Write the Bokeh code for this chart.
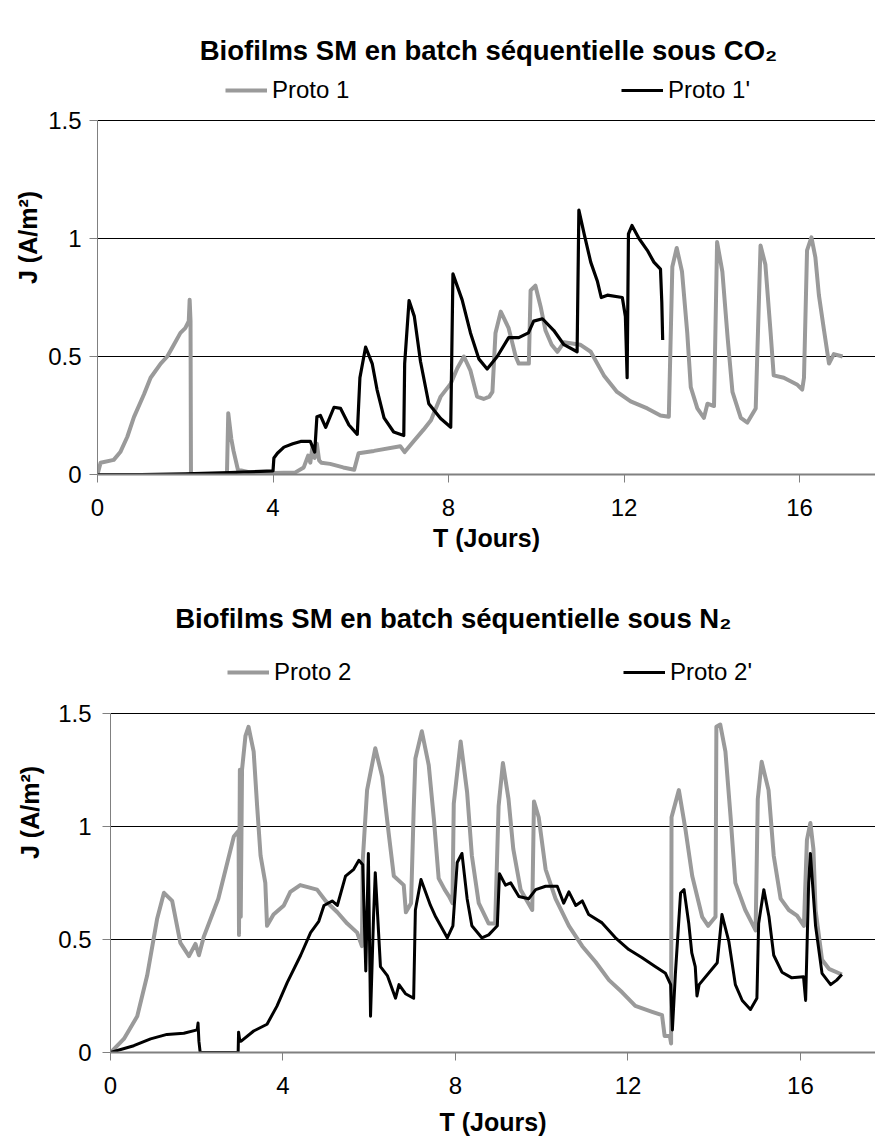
from bokeh.plotting import figure
from bokeh.models import (Range1d, FixedTicker, NumeralTickFormatter, Title, Label,
                          Legend, LegendItem)
from bokeh.embed import file_html
from bokeh.resources import INLINE

# ---------------- data ----------------
x_ticks = [0, 4, 8, 12, 16]
y_ticks = [0, 0.5, 1, 1.5]

t_proto1 = [0.0, 0.07, 0.37, 0.52, 0.68, 0.83, 1.06, 1.21, 1.44, 1.59, 1.74, 1.89, 2.0, 2.08,
            2.1, 2.12, 2.13, 2.95, 2.98, 3.05, 3.1, 3.2, 3.5, 4.0, 4.5, 4.7, 4.8, 4.85, 4.9,
            4.95, 5.0, 5.05, 5.1, 5.3, 5.6, 5.85, 5.95, 6.3, 6.9, 7.0, 7.2, 7.43, 7.6, 7.82,
            8.05, 8.2, 8.35, 8.5, 8.65, 8.8, 8.93, 9.0, 9.07, 9.19, 9.37, 9.53, 9.6, 9.83,
            9.87, 9.98, 10.1, 10.21, 10.35, 10.48, 10.63, 11.0, 11.24, 11.54, 11.84, 12.15,
            12.53, 12.83, 13.02, 13.1, 13.2, 13.32, 13.44, 13.52, 13.67, 13.82, 13.9, 14.05,
            14.12, 14.24, 14.36, 14.47, 14.66, 14.81, 15.0, 15.11, 15.22, 15.34, 15.41, 15.64,
            15.95, 16.06, 16.1, 16.17, 16.27, 16.36, 16.44, 16.55, 16.67, 16.78, 16.98]
j_proto1 = [0.0, 0.05, 0.062, 0.095, 0.16, 0.243, 0.34, 0.41, 0.47, 0.50, 0.55, 0.60, 0.62, 0.65,
            0.74, 0.65, 0.0, 0.0, 0.26, 0.15, 0.10, 0.02, 0.008, 0.006, 0.008, 0.03, 0.08, 0.05,
            0.12, 0.07, 0.13, 0.06, 0.05, 0.045, 0.03, 0.02, 0.09, 0.10, 0.12, 0.095, 0.14, 0.19,
            0.23, 0.33, 0.385, 0.45, 0.50, 0.44, 0.33, 0.32, 0.33, 0.35, 0.60, 0.69, 0.62, 0.50,
            0.47, 0.47, 0.78, 0.80, 0.71, 0.61, 0.55, 0.52, 0.56, 0.55, 0.52, 0.42, 0.35, 0.31,
            0.28, 0.25, 0.245, 0.88, 0.96, 0.86, 0.60, 0.37, 0.28, 0.24, 0.30, 0.29, 0.985,
            0.86, 0.58, 0.35, 0.24, 0.22, 0.28, 0.97, 0.89, 0.60, 0.42, 0.41, 0.38, 0.36, 0.41,
            0.95, 1.005, 0.92, 0.76, 0.62, 0.47, 0.51, 0.50]

t_proto1b = [0.0, 1.0, 2.0, 3.0, 4.0, 4.02, 4.1, 4.25, 4.45, 4.63, 4.85, 4.95, 5.0, 5.08, 5.2,
             5.39, 5.54, 5.73, 5.92, 5.98, 6.11, 6.26, 6.37, 6.53, 6.75, 6.98, 7.0, 7.1, 7.22,
             7.36, 7.55, 7.82, 8.05, 8.1, 8.31, 8.5, 8.69, 8.88, 9.11, 9.37, 9.6, 9.82, 9.94,
             10.14, 10.4, 10.63, 10.93, 10.97, 11.09, 11.24, 11.39, 11.48, 11.62, 11.96, 12.03,
             12.07, 12.1, 12.18, 12.34, 12.53, 12.68, 12.83, 12.86, 12.88]
j_proto1b = [0.0, 0.0, 0.003, 0.008, 0.015, 0.07, 0.09, 0.116, 0.13, 0.14, 0.14, 0.095, 0.245,
             0.25, 0.20, 0.285, 0.28, 0.21, 0.17, 0.41, 0.54, 0.47, 0.36, 0.24, 0.18, 0.165,
             0.47, 0.737, 0.67, 0.48, 0.30, 0.237, 0.20, 0.85, 0.74, 0.60, 0.49, 0.447, 0.50,
             0.58, 0.58, 0.60, 0.65, 0.66, 0.61, 0.55, 0.52, 1.12, 1.02, 0.90, 0.82, 0.75, 0.76,
             0.75, 0.67, 0.41, 1.02, 1.055, 1.0, 0.95, 0.90, 0.87, 0.73, 0.57]

t_proto2 = [0.0, 0.04, 0.31, 0.62, 0.85, 1.08, 1.24, 1.43, 1.62, 1.82, 1.97, 2.05, 2.16, 2.5,
            2.86, 2.97, 2.98, 3.0, 3.02, 3.05, 3.13, 3.2, 3.32, 3.4, 3.48, 3.59, 3.63, 3.78,
            4.02, 4.17, 4.4, 4.79, 4.99, 5.26, 5.49, 5.72, 5.83, 5.85, 5.95, 6.14, 6.3, 6.45,
            6.57, 6.8, 6.85, 6.97, 7.03, 7.07, 7.22, 7.38, 7.5, 7.61, 7.75, 7.85, 7.93, 7.96,
            8.12, 8.27, 8.38, 8.54, 8.77, 8.92, 9.0, 9.1, 9.23, 9.34, 9.51, 9.78, 9.82, 9.93,
            10.09, 10.32, 10.63, 10.94, 11.25, 11.56, 11.87, 12.17, 12.56, 12.79, 12.85, 12.97,
            13.0, 13.01, 13.18, 13.33, 13.49, 13.72, 13.86, 14.03, 14.05, 14.14, 14.26, 14.38,
            14.49, 14.72, 14.96, 15.01, 15.1, 15.26, 15.38, 15.54, 15.73, 15.92, 16.08, 16.15,
            16.23, 16.3, 16.35, 16.5, 16.66, 16.96]
j_proto2 = [0.0, 0.007, 0.06, 0.16, 0.34, 0.59, 0.706, 0.67, 0.485, 0.426, 0.48, 0.43, 0.51,
            0.68, 0.955, 0.98, 0.52, 1.25, 0.6, 1.25, 1.40, 1.44, 1.33, 1.09, 0.87, 0.75, 0.56,
            0.61, 0.65, 0.71, 0.74, 0.72, 0.67, 0.62, 0.57, 0.53, 0.47, 0.85, 1.16, 1.345, 1.22,
            0.97, 0.78, 0.74, 0.62, 0.66, 1.07, 1.3, 1.42, 1.27, 1.03, 0.77, 0.72, 0.69, 0.66,
            1.10, 1.375, 1.15, 0.87, 0.66, 0.57, 0.57, 1.09, 1.28, 1.12, 0.90, 0.72, 0.63, 1.11,
            1.04, 0.81, 0.68, 0.56, 0.47, 0.40, 0.32, 0.265, 0.206, 0.18, 0.165, 0.073, 0.073,
            0.04, 1.04, 1.16, 0.99, 0.78, 0.60, 0.56, 0.60, 1.44, 1.45, 1.33, 1.04, 0.75, 0.63,
            0.54, 1.12, 1.285, 1.16, 0.87, 0.68, 0.63, 0.605, 0.56, 0.94, 1.015, 0.9, 0.63,
            0.41, 0.37, 0.345]

t_proto2b = [0.0, 0.54, 0.93, 1.31, 1.7, 2.01, 2.03, 2.05, 2.08, 2.96, 2.97, 3.0, 3.03, 3.32,
             3.63, 3.86, 4.1, 4.41, 4.64, 4.83, 4.95, 5.14, 5.26, 5.45, 5.64, 5.76, 5.85, 5.92,
             5.98, 6.03, 6.1, 6.14, 6.26, 6.42, 6.61, 6.69, 6.84, 7.03, 7.07, 7.2, 7.42, 7.54,
             7.81, 7.94, 8.04, 8.15, 8.27, 8.38, 8.61, 8.77, 8.97, 9.02, 9.16, 9.28, 9.47, 9.7,
             9.86, 10.09, 10.36, 10.51, 10.63, 10.79, 10.94, 11.09, 11.4, 11.71, 12.02, 12.32,
             12.63, 12.87, 12.99, 13.03, 13.1, 13.22, 13.3, 13.41, 13.48, 13.56, 13.6, 13.65,
             14.07, 14.18, 14.34, 14.49, 14.65, 14.84, 14.99, 15.03, 15.15, 15.27, 15.38, 15.57,
             15.8, 16.07, 16.12, 16.19, 16.23, 16.35, 16.5, 16.7, 16.84, 16.96]
j_proto2b = [0.0, 0.03, 0.06, 0.08, 0.085, 0.10, 0.13, 0.05, 0.0, 0.0, 0.09, 0.05, 0.05, 0.095,
             0.125, 0.205, 0.31, 0.43, 0.53, 0.58, 0.65, 0.67, 0.65, 0.78, 0.81, 0.85, 0.83,
             0.36, 0.88, 0.16, 0.60, 0.795, 0.38, 0.34, 0.24, 0.30, 0.26, 0.24, 0.63, 0.765,
             0.65, 0.60, 0.507, 0.56, 0.84, 0.88, 0.68, 0.56, 0.507, 0.52, 0.56, 0.79, 0.74,
             0.75, 0.69, 0.68, 0.72, 0.735, 0.735, 0.66, 0.71, 0.65, 0.67, 0.61, 0.573, 0.507,
             0.455, 0.42, 0.38, 0.35, 0.30, 0.10, 0.35, 0.705, 0.72, 0.57, 0.44, 0.38, 0.25,
             0.30, 0.397, 0.61, 0.49, 0.30, 0.23, 0.19, 0.24, 0.57, 0.72, 0.60, 0.43, 0.355,
             0.33, 0.335, 0.23, 0.75, 0.88, 0.56, 0.35, 0.30, 0.32, 0.345]

FONT = "Liberation Sans"
GRAY = "#9a9a9a"
BLACK = "#000000"


def make_chart(height, frame_h, top_px, border_left, x_end, title, title_pos,
               legend_loc, xlabel_offset, xlabel_standoff, ylabel_standoff, ylab_standoff,
               series):
    # the frame extends above 1.5 so that title and legend sit inside it
    y_end = 1.5 * frame_h / (frame_h - top_px)
    p = figure(width=875, height=height, output_backend="svg", toolbar_location=None,
               x_range=Range1d(0, x_end), y_range=Range1d(0, y_end),
               min_border_left=border_left, min_border_right=0, min_border_top=0,
               min_border_bottom=height - frame_h, title=None)
    p.outline_line_color = None
    p.xgrid.visible = False
    p.ygrid.ticker = FixedTicker(ticks=[0.5, 1, 1.5])
    p.ygrid.grid_line_color = "black"
    p.ygrid.grid_line_width = 1

    p.xaxis.ticker = FixedTicker(ticks=x_ticks)
    p.yaxis.ticker = FixedTicker(ticks=y_ticks)
    p.yaxis.formatter = NumeralTickFormatter(format="0.[0]")
    p.yaxis.bounds = (0, 1.5)
    for ax in (p.xaxis[0], p.yaxis[0]):
        ax.axis_line_color = "#808080"
        ax.major_tick_line_color = "#808080"
        ax.major_tick_in = 0
        ax.major_tick_out = 8
        ax.minor_tick_line_color = None
        ax.major_label_text_font = FONT
        ax.major_label_text_font_size = "24px"
        ax.major_label_text_color = "black"
    p.xaxis.axis_line_width = 2
    p.xaxis.major_label_standoff = 16
    p.yaxis.major_label_standoff = ylab_standoff

    renderers = []
    for (t, j, color, width, _name) in series:
        r = p.line(t, j, line_color=color, line_width=width, line_join="round")
        renderers.append(r)

    legend = Legend(items=[LegendItem(label=s[4], renderers=[r]) for s, r in zip(series, renderers)],
                    orientation="horizontal", location=legend_loc,
                    glyph_width=42, glyph_height=24, label_standoff=5, label_width=349,
                    spacing=0, padding=0, margin=0, border_line_color=None,
                    background_fill_alpha=0, label_text_font=FONT,
                    label_text_font_size="24px", label_text_color="black")
    p.add_layout(legend)

    p.add_layout(Label(x=title_pos[0], y=title_pos[1], text=title, text_align="center",
                       text_baseline="middle", text_font=FONT, text_font_style="bold",
                       text_font_size="27.5px", text_color="black"))

    p.add_layout(Title(text="T (Jours)", align="center", offset=xlabel_offset,
                       standoff=xlabel_standoff, text_font=FONT, text_font_size="25px",
                       text_font_style="bold", text_color="black"), "below")
    p.add_layout(Title(text="J (A/m²)", align="center", standoff=ylabel_standoff,
                       text_font=FONT, text_font_size="25px", text_font_style="bold",
                       text_color="black"), "left")
    return p


p1 = make_chart(height=572, frame_h=474, top_px=120, border_left=97, x_end=17.73,
                title="Biofilms SM en batch séquentielle sous CO₂", title_pos=(8.91, 1.797),
                legend_loc=(128, 370), xlabel_offset=7, xlabel_standoff=6,
                ylabel_standoff=8, ylab_standoff=8,
                series=[(t_proto1, j_proto1, GRAY, 4, "Proto 1"),
                        (t_proto1b, j_proto1b, BLACK, 3.2, "Proto 1'")])

p2 = make_chart(height=572, frame_h=481, top_px=141, border_left=110, x_end=17.74,
                title="Biofilms SM en batch séquentielle sous N₂", title_pos=(7.95, 1.92),
                legend_loc=(117, 366), xlabel_offset=43, xlabel_standoff=18,
                ylabel_standoff=23, ylab_standoff=11,
                series=[(t_proto2, j_proto2, GRAY, 4, "Proto 2"),
                        (t_proto2b, j_proto2b, BLACK, 3, "Proto 2'")])

open("out.html", "w").write(file_html([p1, p2], INLINE))
